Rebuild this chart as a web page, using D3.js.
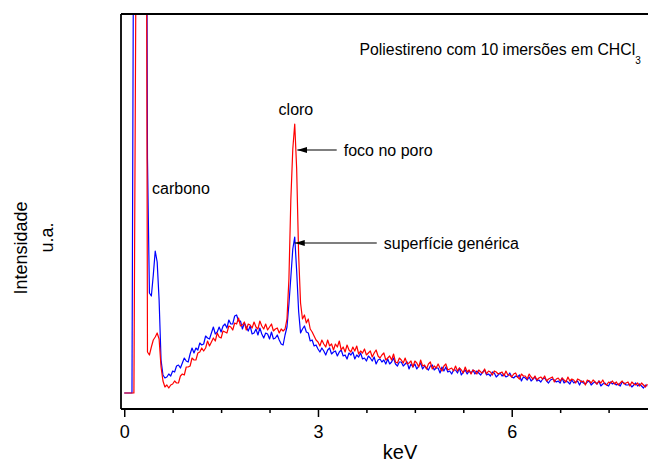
<!DOCTYPE html>
<html>
<head>
<meta charset="utf-8">
<script src="https://cdn.jsdelivr.net/npm/d3@7/dist/d3.min.js"></script>
<style>
  html, body { margin: 0; padding: 0; background: #fff; }
  svg { display: block; font-family: "Liberation Sans", Arial, sans-serif; }
</style>
</head>
<body>
<svg id="chart" width="648" height="462"></svg>
<script>
// ---- Data (EDS spectra, channel width 0.03 keV, starting at 0 keV) ----
const energyStart = 0;      // keV
const energyStep = 0.03;    // keV per channel

// "superfície genérica" (blue)
const surfaceCounts = [
  16,16,16,16,16,600,900,900,900,900,
  900,900,250,116,113,134,158,147,109,49,
  34,31,32,35,33,38,37,43,44,41,
  46,51,48,47,55,61,56,61,59,66,
  64,65,73,71,70,76,82,75,77,82,
  77,83,85,81,89,85,85,93,94,88,
  88,80,86,82,78,83,75,76,80,74,
  81,75,71,76,75,70,77,70,71,74,
  69,65,64,74,82,105,132,160,172,138,
  98,76,80,83,77,76,68,69,63,64,
  60,57,61,58,54,59,61,55,57,58,
  53,57,59,53,54,50,56,54,57,50,
  54,52,56,50,51,48,53,51,48,52,
  45,49,50,47,49,45,50,45,47,51,
  45,43,47,47,43,45,47,40,45,42,
  45,40,43,46,40,43,41,39,43,44,
  39,41,41,36,42,38,42,37,38,35,
  39,39,36,41,34,37,39,35,38,36,
  39,35,38,36,34,37,39,34,35,33,
  37,36,32,34,36,33,35,32,33,36,
  32,31,33,32,34,28,32,31,29,32,
  28,30,32,28,29,27,30,31,28,26,
  29,30,29,27,28,26,31,26,28,27,
  25,29,26,27,28,24,28,26,25,27,
  28,24,26,27,25,28,23,25,26,24,
  23,27,25,26,24,25,23,27,26,24,
  24,25,22,24,26,23,25,23,21,24,
  23
];

// "foco no poro" (red)
const poreCounts = [
  16,16,16,16,16,16,420,900,900,900,
  900,900,57,54,62,69,72,76,70,42,
  28,22,24,21,24,25,28,26,26,33,
  35,34,42,42,43,51,49,49,56,57,
  61,58,61,68,63,67,71,68,76,72,
  71,78,77,76,83,82,79,86,85,91,
  83,84,87,79,85,84,81,87,82,80,
  88,83,80,85,79,82,85,78,80,81,
  76,80,78,80,90,130,210,260,285,240,
  155,106,90,94,86,90,80,77,73,69,
  67,63,69,65,62,69,63,65,59,65,
  62,68,59,62,57,64,59,57,62,58,
  63,55,58,56,60,54,56,58,52,56,
  59,53,51,54,56,49,51,53,49,55,
  47,46,51,49,46,51,45,46,48,42,
  48,46,42,49,43,44,40,45,47,40,
  43,41,45,41,38,43,45,39,40,41,
  38,43,38,41,39,36,42,37,39,35,
  39,38,35,39,37,36,40,35,38,37,
  34,38,37,35,36,37,33,38,34,34,
  32,35,36,32,30,35,33,33,30,35,
  32,30,33,29,31,32,30,33,28,30,
  31,32,27,30,31,28,31,29,27,32,
  28,30,29,26,30,29,27,28,24,29,
  28,26,29,27,25,28,26,29,25,24,
  27,26,28,25,27,24,26,28,25,26,
  27,23,27,25,24,26,23,26,24,22,
  25
];

const xMajorTicks = [0, 3, 6];
const xMinorTicks = [0.75, 1.5, 2.25, 3.75, 4.5, 5.25, 6.75, 7.5];
const xDomain = [-0.05, 8.11];
const yDomain = [0, 395];

const xTitle = "keV";
const yTitle1 = "Intensidade";
const yTitle2 = "u.a.";
const chartNote = "Poliestireno com 10 imersões em CHCl";
const chartNoteSub = "3";
const peakLabels = [
  { text: "carbono", e: 0.43, v: 215 },
  { text: "cloro", e: 2.39, v: 294 }
];
const arrowLabels = [
  { text: "foco no poro", eFrom: 3.29, eTo: 2.68, v: 259 },
  { text: "superfície genérica", eFrom: 3.91, eTo: 2.64, v: 166 }
];

// ---- Layout ----
const L = 121, R = 648, T = 14, B = 409;
const svg = d3.select("#chart");
const x = d3.scaleLinear().domain(xDomain).range([L, R]);
const y = d3.scaleLinear().domain(yDomain).range([B, T]);

const toPoints = arr => arr.map((c, i) => ({ e: energyStart + i * energyStep, c }));
const surface = toPoints(surfaceCounts);
const pore = toPoints(poreCounts);

const defs = svg.append("defs");
defs.append("clipPath").attr("id", "plotclip")
  .append("rect").attr("x", L).attr("y", T).attr("width", R - L).attr("height", B - T);

const line = d3.line().x(d => x(d.e)).y(d => y(d.c));
const g = svg.append("g").attr("clip-path", "url(#plotclip)");
g.append("path").datum(surface).attr("d", line)
  .attr("fill", "none").attr("stroke", "#0000ff").attr("stroke-width", 1.2)
  .attr("stroke-linejoin", "round");
g.append("path").datum(pore).attr("d", line)
  .attr("fill", "none").attr("stroke", "#ff0000").attr("stroke-width", 1.2)
  .attr("stroke-linejoin", "round");

// frame: top and left
svg.append("line").attr("x1", L).attr("x2", R).attr("y1", T).attr("y2", T)
  .attr("stroke", "#000").attr("stroke-width", 1.8);
svg.append("line").attr("x1", L).attr("x2", L).attr("y1", T).attr("y2", B)
  .attr("stroke", "#000").attr("stroke-width", 1.8);

// x axis
const xAxis = d3.axisBottom(x).tickValues(xMajorTicks).tickSize(8).tickPadding(8)
  .tickFormat(d3.format("d"));
const ax = svg.append("g").attr("transform", `translate(0,${B})`).call(xAxis);
ax.select(".domain").remove();
ax.selectAll(".tick line").attr("stroke", "#000").attr("stroke-width", 1.5);
ax.selectAll(".tick text").attr("font-size", 18).attr("fill", "#000")
  .attr("font-family", "Liberation Sans, Arial, sans-serif");
const axMinor = d3.axisBottom(x).tickValues(xMinorTicks).tickSize(4).tickFormat("");
const axm = svg.append("g").attr("transform", `translate(0,${B})`).call(axMinor);
axm.select(".domain").remove();
axm.selectAll(".tick line").attr("stroke", "#000").attr("stroke-width", 1.5);
svg.append("line").attr("x1", L).attr("x2", R).attr("y1", B).attr("y2", B)
  .attr("stroke", "#000").attr("stroke-width", 1.8);

// axis titles
svg.append("text").attr("x", 400).attr("y", 459).attr("text-anchor", "middle")
  .attr("font-size", 20).text(xTitle);
svg.append("text").attr("transform", "translate(26.5,248) rotate(-90)")
  .attr("text-anchor", "middle").attr("font-size", 18).text(yTitle1);
svg.append("text").attr("transform", "translate(53,237.5) rotate(-90)")
  .attr("text-anchor", "middle").attr("font-size", 18).text(yTitle2);

// note
const note = svg.append("text").attr("x", 359.5).attr("y", 55).attr("font-size", 15.8).text(chartNote);
note.append("tspan").attr("font-size", 10).attr("dy", 9).text(chartNoteSub);

// peak labels
peakLabels.forEach(p => {
  svg.append("text").attr("x", x(p.e)).attr("y", y(p.v)).attr("font-size", 16).text(p.text);
});

// arrows
defs.append("marker").attr("id", "arrow").attr("viewBox", "0 0 10 6")
  .attr("refX", 10).attr("refY", 3).attr("markerWidth", 10).attr("markerHeight", 6)
  .attr("markerUnits", "userSpaceOnUse").attr("orient", "auto")
  .append("path").attr("d", "M0,0 L10,3 L0,6 Z").attr("fill", "#000");
arrowLabels.forEach(a => {
  svg.append("line").attr("x1", x(a.eFrom)).attr("x2", x(a.eTo))
    .attr("y1", y(a.v)).attr("y2", y(a.v))
    .attr("stroke", "#000").attr("stroke-width", 1.1)
    .attr("marker-end", "url(#arrow)");
  svg.append("text").attr("x", x(a.eFrom) + 7).attr("y", y(a.v) + 5.5)
    .attr("font-size", 16).text(a.text);
});
</script>
</body>
</html>
